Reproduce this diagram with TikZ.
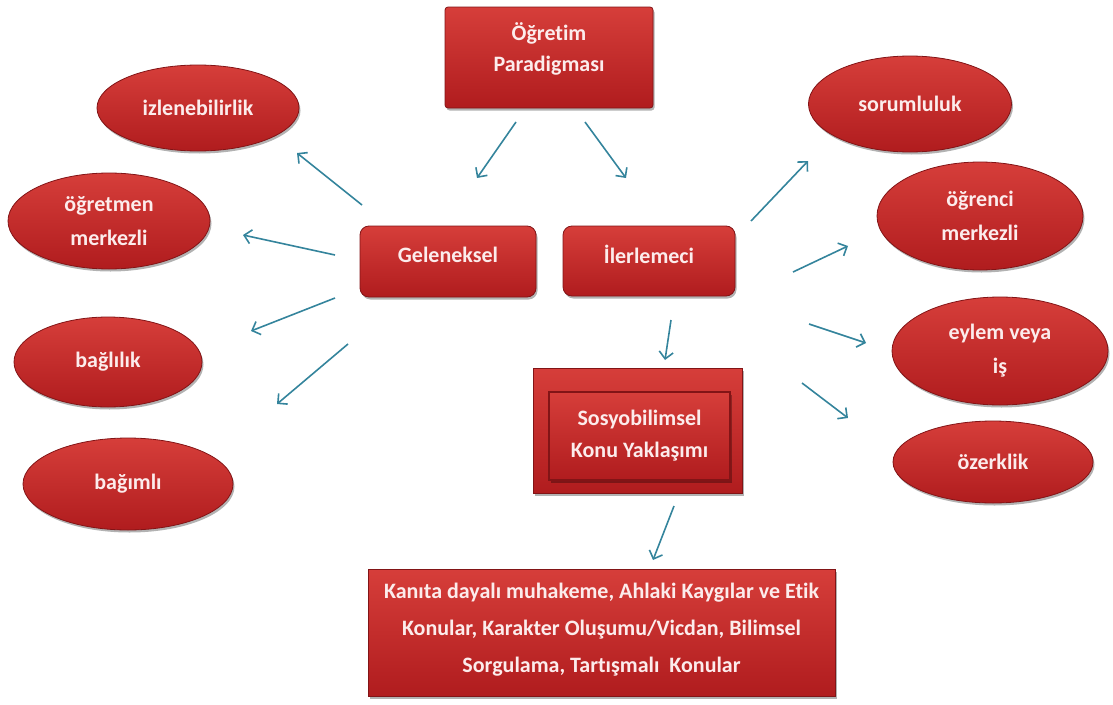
\documentclass[tikz,border=0pt]{standalone}
\usepackage{fontspec}
\setmainfont{Carlito}[Ligatures=NoCommon]
\usetikzlibrary{shapes.geometric,arrows.meta,shadows}
\definecolor{boxtop}{RGB}{214,62,58}
\definecolor{boxbot}{RGB}{176,28,30}
\definecolor{boxline}{RGB}{130,20,22}
\definecolor{txtcol}{RGB}{252,236,236}
\definecolor{arrcol}{RGB}{52,132,156}
\tikzset{
  txt/.style={text=txtcol,font=\fontsize{22}{34}\selectfont\bfseries,align=center},
  shadowed/.style={drop shadow={shadow xshift=1.5pt,shadow yshift=-2.5pt,opacity=.3,fill=black}},
  redbox/.style={rectangle,draw=boxline,line width=0.8pt,top color=boxtop,bottom color=boxbot,
    shadowed,inner sep=0pt,txt},
  redoval/.style={ellipse,draw=boxline,line width=0.8pt,top color=boxtop,bottom color=boxbot,
    shadowed,inner sep=0pt,txt},
  conn/.style={draw=arrcol,line width=1.6pt,-{Straight Barb[length=7pt,width=14pt,line width=1.6pt]}},
}
\begin{document}
\begin{tikzpicture}[x=1pt,y=-1pt]
\useasboundingbox (0,0) rectangle (1113,704);
% central boxes
\node[redbox,rounded corners=3pt,minimum width=208pt,minimum height=101pt,
  label={[txt,font=\fontsize{22}{31}\selectfont\bfseries,yshift=9pt]center:{Öğretim\\Paradigması}}] (top) at (549,57.5) {};
\node[redbox,rounded corners=9pt,minimum width=176pt,minimum height=71pt,
  label={[txt,yshift=7pt]center:Geleneksel}] (gel) at (448,261.5) {};
\node[redbox,rounded corners=9pt,minimum width=172pt,minimum height=70pt,
  label={[txt,yshift=7pt]center:İlerlemeci}] (iler) at (649,261) {};
\node[redbox,minimum width=209pt,minimum height=125pt] (sosyo) at (637.5,430.5) {};
\node[redbox,drop shadow={opacity=0},minimum width=181pt,minimum height=88pt,line width=1.2pt,
  font=\fontsize{22}{32}\selectfont\bfseries]
  (sosyoin) at (639.5,436) {Sosyobilimsel\\Konu Yaklaşımı};
\node[redbox,minimum width=467pt,minimum height=127pt,font=\fontsize{22}{37}\selectfont\bfseries,
  label={[txt,font=\fontsize{22}{37}\selectfont\bfseries,yshift=3pt]center:{Kanıta dayalı muhakeme, Ahlaki Kaygılar ve Etik\\Konular, Karakter Oluşumu/Vicdan, Bilimsel\\Sorgulama, Tartışmalı\ \ Konular}}]
  (bottom) at (601.5,632.5) {};
% left ovals
\node[redoval,minimum width=202pt,minimum height=86pt] (izlen) at (198,108) {izlenebilirlik};
\node[redoval,minimum width=202pt,minimum height=96pt] (ogretmen) at (109,221) {öğretmen\\merkezli};
\node[redoval,minimum width=188pt,minimum height=90pt] (baglilik) at (108,362) {bağlılık};
\node[redoval,minimum width=210pt,minimum height=92pt] (bagimli) at (128,484) {bağımlı};
% right ovals
\node[redoval,minimum width=203pt,minimum height=96pt] (sorum) at (910,104) {sorumluluk};
\node[redoval,minimum width=206pt,minimum height=108pt] (ogrenci) at (980,216) {öğrenci\\merkezli};
\node[redoval,minimum width=216pt,minimum height=108pt] (eylem) at (1000,351) {eylem veya\\iş};
\node[redoval,minimum width=200pt,minimum height=82pt] (ozerk) at (993,462) {özerklik};
% arrow end points (arrows float between the shapes)
\coordinate (a1s) at (516,122); \coordinate (a1e) at (477,178);
\coordinate (a2s) at (585,122); \coordinate (a2e) at (626,178);
\coordinate (g1s) at (362,205); \coordinate (g1e) at (297,153);
\coordinate (g2s) at (335,255); \coordinate (g2e) at (243,235);
\coordinate (g3s) at (335,298); \coordinate (g3e) at (251,331);
\coordinate (g4s) at (348,344); \coordinate (g4e) at (277,404);
\coordinate (i1s) at (751,221); \coordinate (i1e) at (808,161);
\coordinate (i2s) at (793,272); \coordinate (i2e) at (848,246);
\coordinate (i3s) at (809,324); \coordinate (i3e) at (866,343);
\coordinate (i4s) at (802,383); \coordinate (i4e) at (848,418);
\coordinate (i5s) at (671,320); \coordinate (i5e) at (665,360);
\coordinate (s1s) at (674,506); \coordinate (s1e) at (653,560);
\foreach \a in {a1,a2,g1,g2,g3,g4,i1,i2,i3,i4,i5,s1}
  \draw[conn] (\a s) -- (\a e);
\end{tikzpicture}
\end{document}
